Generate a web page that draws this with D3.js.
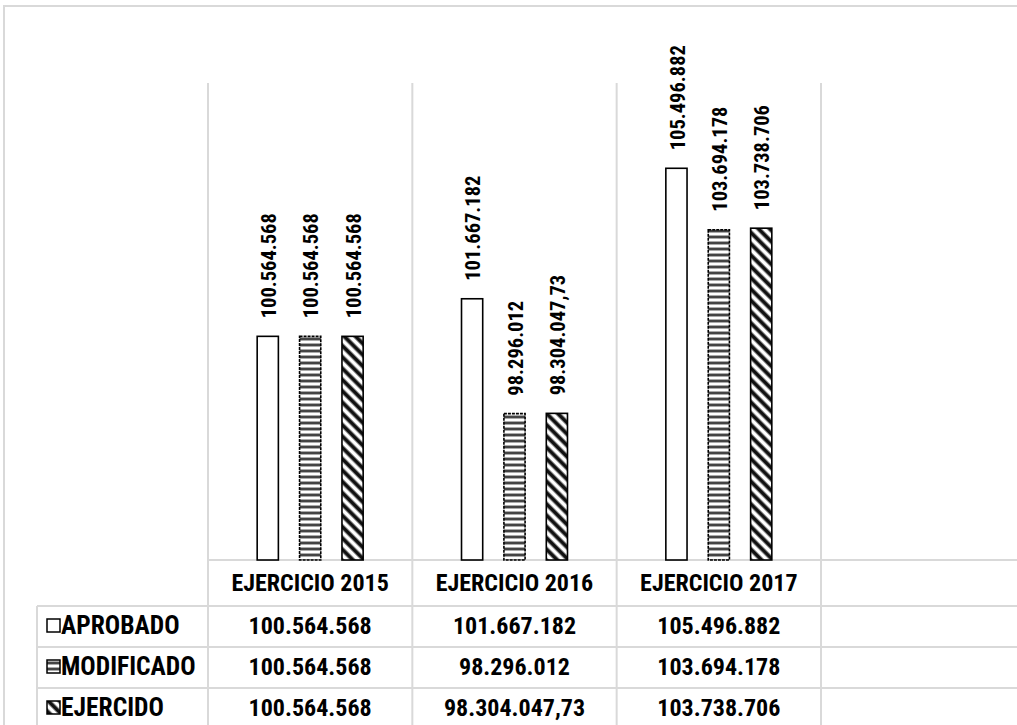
<!DOCTYPE html>
<html>
<head>
<meta charset="utf-8">
<script src="https://cdnjs.cloudflare.com/ajax/libs/d3/7.8.5/d3.min.js"></script>
<style>
  body { margin: 0; background: #fff; }
  text { font-family: "Liberation Sans Narrow", "Arial Narrow", "Roboto Condensed", sans-serif; font-weight: bold; fill: #000; }
</style>
</head>
<body>
<svg id="chart" width="1017" height="725"></svg>
<script>
// datos del grafico
var categories = ["EJERCICIO 2015", "EJERCICIO 2016", "EJERCICIO 2017"];
var seriesNames = ["APROBADO", "MODIFICADO", "EJERCIDO"];
var aprobado = [100564568, 101667182, 105496882];
var modificado = [100564568, 98296012, 103694178];
var ejercido = [100564568, 98304047.73, 103738706];
var labelsAprobado = ["100.564.568", "101.667.182", "105.496.882"];
var labelsModificado = ["100.564.568", "98.296.012", "103.694.178"];
var labelsEjercido = ["100.564.568", "98.304.047,73", "103.738.706"];

var series = [
  {name: seriesNames[0], values: aprobado, labels: labelsAprobado, fill: "#fff", dash: null},
  {name: seriesNames[1], values: modificado, labels: labelsModificado, fill: "url(#stripesH)", dash: "3,1"},
  {name: seriesNames[2], values: ejercido, labels: labelsEjercido, fill: "url(#stripesD)", dash: null}
];

var W = 1017, H = 725;
var plotTop = 83, plotBottom = 560, plotLeft = 208, plotRight = 821;
var legendLeft = 37;
var rowLines = [560, 606, 647, 688, 729];
var gridColor = "#d9d9d9";

var svg = d3.select("#chart");

// patrones
var defs = svg.append("defs");
var ph = defs.append("pattern").attr("id", "stripesH")
  .attr("patternUnits", "userSpaceOnUse").attr("width", 6).attr("height", 6);
ph.append("rect").attr("width", 6).attr("height", 6).attr("fill", "#fff");
ph.append("rect").attr("y", 1).attr("width", 6).attr("height", 1).attr("fill", "#aaa");
ph.append("rect").attr("y", 2).attr("width", 6).attr("height", 2).attr("fill", "#444");
ph.append("rect").attr("y", 4).attr("width", 6).attr("height", 1).attr("fill", "#aaa");

var pd = defs.append("pattern").attr("id", "stripesD")
  .attr("patternUnits", "userSpaceOnUse").attr("width", 8).attr("height", 8)
  .attr("patternTransform", "rotate(-45)");
pd.append("rect").attr("width", 8).attr("height", 8).attr("fill", "#fff");
pd.append("rect").attr("x", 0).attr("width", 1).attr("height", 8).attr("fill", "#888");
pd.append("rect").attr("x", 1).attr("width", 3).attr("height", 8).attr("fill", "#111");
pd.append("rect").attr("x", 4).attr("width", 1).attr("height", 8).attr("fill", "#888");

// marco exterior
svg.append("rect").attr("x", 4).attr("y", 6).attr("width", W + 10).attr("height", H + 10)
  .attr("fill", "none").attr("stroke", gridColor).attr("stroke-width", 2);

var y = d3.scaleLinear().domain([94000000, 108000000]).range([plotBottom, plotTop]);
var x0 = d3.scaleBand().domain(categories).range([plotLeft, plotRight]);
var x1 = d3.scaleBand().domain(seriesNames).range([0, x0.bandwidth()])
  .paddingInner(0.5).paddingOuter(1.16);

// lineas de cuadricula / tabla
var grid = svg.append("g").attr("stroke", gridColor).attr("stroke-width", 2);
var vlines = categories.map(function(c) { return x0(c); }).concat([plotRight]);
grid.selectAll("line.v").data(vlines).enter().append("line")
  .attr("x1", function(d) { return d; }).attr("x2", function(d) { return d; })
  .attr("y1", plotTop).attr("y2", H + 10);
grid.append("line").attr("x1", legendLeft).attr("x2", legendLeft)
  .attr("y1", rowLines[1]).attr("y2", H + 10);
grid.selectAll("line.h").data(rowLines).enter().append("line")
  .attr("x1", function(d, i) { return i == 0 ? plotLeft : legendLeft; })
  .attr("x2", W + 10)
  .attr("y1", function(d) { return d; }).attr("y2", function(d) { return d; });

// barras
var groups = svg.selectAll("g.cat").data(categories).enter().append("g")
  .attr("transform", function(d) { return "translate(" + x0(d) + ",0)"; });

series.forEach(function(s) {
  groups.append("rect")
    .attr("x", x1(s.name))
    .attr("y", function(d, i) { return y(s.values[i]); })
    .attr("width", x1.bandwidth())
    .attr("height", function(d, i) { return plotBottom - y(s.values[i]); })
    .attr("fill", s.fill)
    .attr("stroke", "#000")
    .attr("stroke-width", 1.6)
    .attr("stroke-dasharray", s.dash);

  groups.append("text")
    .attr("transform", function(d, i) {
      return "translate(" + (x1(s.name) + x1.bandwidth() / 2 + 1) + "," + (y(s.values[i]) - 18) + ") rotate(-90)";
    })
    .attr("dy", "0.35em")
    .style("font-size", "20.5px")
    .text(function(d, i) { return s.labels[i]; });
});

// tabla de datos
groups.append("text")
  .attr("x", x0.bandwidth() / 2)
  .attr("y", (rowLines[0] + rowLines[1]) / 2)
  .attr("dy", "0.35em")
  .attr("text-anchor", "middle")
  .style("font-size", "24px")
  .text(function(d) { return d; });

series.forEach(function(s, r) {
  var cy = (rowLines[r + 1] + rowLines[r + 2]) / 2 - 1;
  groups.append("text")
    .attr("x", x0.bandwidth() / 2)
    .attr("y", cy)
    .attr("dy", "0.35em")
    .attr("text-anchor", "middle")
    .style("font-size", "24px")
    .text(function(d, i) { return s.labels[i]; });

  svg.append("rect")
    .attr("x", 47).attr("y", cy - 6.5).attr("width", 13).attr("height", 13)
    .attr("fill", s.fill).attr("stroke", "#000").attr("stroke-width", 1.5);
  svg.append("text")
    .attr("x", 61).attr("y", cy).attr("dy", "0.35em")
    .style("font-size", "25.5px")
    .text(s.name);
});
</script>
</body>
</html>
